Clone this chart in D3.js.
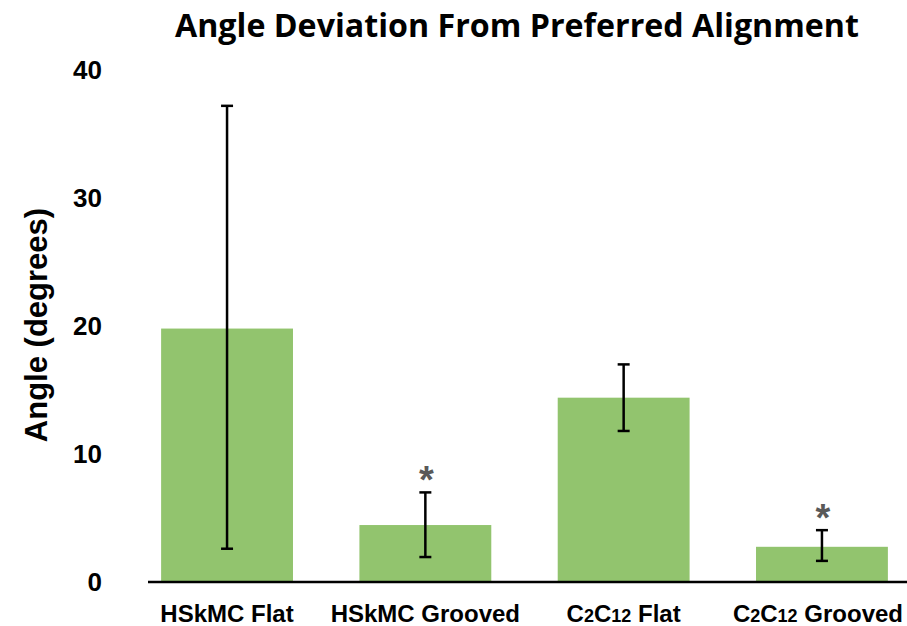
<!DOCTYPE html>
<html>
<head>
<meta charset="utf-8">
<script src="https://cdn.jsdelivr.net/npm/d3@7"></script>
<style>
  body { margin: 0; background: #fff; }
  svg { display: block; }
</style>
</head>
<body>
<div id="chart"></div>
<script>
// data
const categories = ["HSkMC Flat", "HSkMC Grooved", "C2C12 Flat", "C2C12 Grooved"];
const means = [19.8, 4.45, 14.4, 2.75];
const errUpper = [37.2, 7.0, 17.0, 4.05];
const errLower = [2.6, 1.95, 11.8, 1.65];
const significant = [false, true, false, true];
const yTicks = [0, 10, 20, 30, 40];

const width = 907, height = 626;

const svg = d3.select("#chart").append("svg")
  .attr("width", width)
  .attr("height", height);

const x = d3.scaleBand()
  .domain(categories)
  .range([128, 921])
  .paddingInner(0.335)
  .paddingOuter(0.167);

const y = d3.scaleLinear()
  .domain([0, 40])
  .range([582, 70]);

// title
svg.append("text")
  .attr("x", 517)
  .attr("y", 37)
  .attr("text-anchor", "middle")
  .attr("font-family", "'Open Sans', sans-serif")
  .attr("font-weight", "bold")
  .attr("font-size", 33)
  .attr("textLength", 684)
  .attr("lengthAdjust", "spacingAndGlyphs")
  .text("Angle Deviation From Preferred Alignment");

// bars
svg.selectAll("rect.bar")
  .data(categories)
  .join("rect")
  .attr("class", "bar")
  .attr("x", d => x(d))
  .attr("width", x.bandwidth())
  .attr("y", (d, i) => y(means[i]))
  .attr("height", (d, i) => y(0) - y(means[i]))
  .attr("fill", "#92c46e");

// error bars
const capW = 12;
const eb = svg.selectAll("g.err")
  .data(categories)
  .join("g")
  .attr("class", "err")
  .attr("stroke", "#000")
  .attr("stroke-width", 2.5);

eb.append("line")
  .attr("x1", d => x(d) + x.bandwidth() / 2)
  .attr("x2", d => x(d) + x.bandwidth() / 2)
  .attr("y1", (d, i) => y(errUpper[i]))
  .attr("y2", (d, i) => y(errLower[i]));

eb.append("line")
  .attr("x1", d => x(d) + x.bandwidth() / 2 - capW / 2)
  .attr("x2", d => x(d) + x.bandwidth() / 2 + capW / 2)
  .attr("y1", (d, i) => y(errUpper[i]))
  .attr("y2", (d, i) => y(errUpper[i]));

eb.append("line")
  .attr("x1", d => x(d) + x.bandwidth() / 2 - capW / 2)
  .attr("x2", d => x(d) + x.bandwidth() / 2 + capW / 2)
  .attr("y1", (d, i) => y(errLower[i]))
  .attr("y2", (d, i) => y(errLower[i]));

// significance stars
svg.selectAll("text.star")
  .data(categories.filter((d, i) => significant[i]))
  .join("text")
  .attr("class", "star")
  .attr("x", d => x(d) + x.bandwidth() / 2 + 1)
  .attr("y", d => y(errUpper[categories.indexOf(d)]) + 1)
  .attr("text-anchor", "middle")
  .attr("font-family", "'Liberation Sans', Arial, sans-serif")
  .attr("font-weight", "bold")
  .attr("font-size", 38)
  .attr("fill", "#595959")
  .text("*");

// baseline
svg.append("line")
  .attr("x1", 148)
  .attr("x2", 907)
  .attr("y1", y(0))
  .attr("y2", y(0))
  .attr("stroke", "#000")
  .attr("stroke-width", 2.5);

// y axis labels (no line, no ticks)
const yAxis = svg.append("g")
  .attr("transform", "translate(102,0)")
  .call(d3.axisLeft(y).tickValues(yTicks).tickSize(0).tickPadding(0));
yAxis.select(".domain").remove();
yAxis.selectAll("text")
  .attr("font-family", "'Liberation Sans', Arial, sans-serif")
  .attr("font-weight", "bold")
  .attr("font-size", 26)
  .attr("fill", "#000");

// y title
svg.append("text")
  .attr("transform", "translate(47,325) rotate(-90)")
  .attr("text-anchor", "middle")
  .attr("font-family", "'Liberation Sans', Arial, sans-serif")
  .attr("font-weight", "bold")
  .attr("font-size", 31)
  .text("Angle (degrees)");

// x labels, with the digits in C2C12 set smaller
const xl = svg.selectAll("text.xlab")
  .data(categories)
  .join("text")
  .attr("class", "xlab")
  .attr("x", d => x(d) + x.bandwidth() / 2)
  .attr("y", 622)
  .attr("text-anchor", "middle")
  .attr("font-family", "'Liberation Sans', Arial, sans-serif")
  .attr("font-weight", "bold")
  .attr("font-size", 24)
  .attr("fill", "#000");

xl.each(function(d) {
  const t = d3.select(this);
  d.split(/(\d+)/).filter(s => s.length).forEach(s => {
    t.append("tspan")
      .attr("font-size", /^\d+$/.test(s) ? 18 : null)
      .text(s);
  });
  // keep the label inside the page, like the original does
  const bb = this.getBBox();
  const over = bb.x + bb.width - (width - 4);
  if (over > 0) t.attr("x", +t.attr("x") - over);
});
</script>
</body>
</html>
